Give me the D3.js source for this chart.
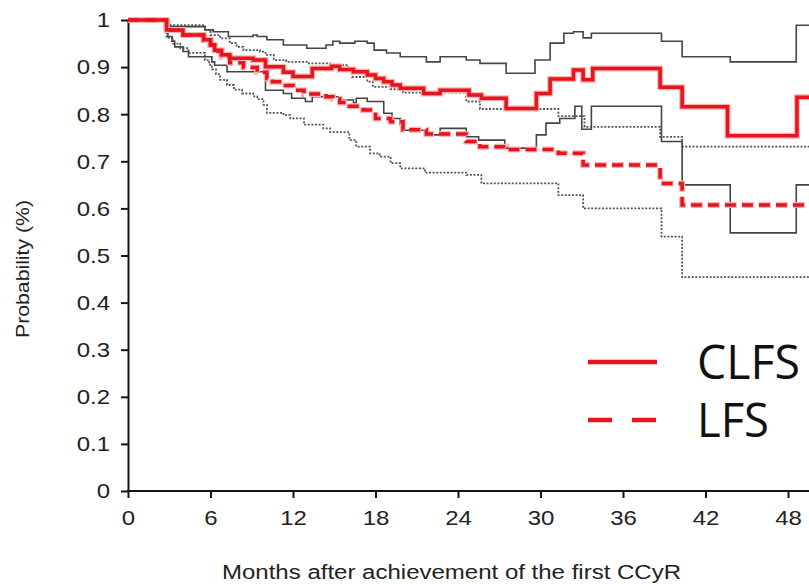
<!DOCTYPE html>
<html>
<head>
<meta charset="utf-8">
<script src="https://cdn.jsdelivr.net/npm/d3@7"></script>
<style>
  body { margin: 0; background: #fff; }
  svg { display: block; }
</style>
</head>
<body>
<svg id="chart" width="809" height="584"></svg>
<script>
// Tick values
const xTicks = [0, 6, 12, 18, 24, 30, 36, 42, 48];
const yTicks = [0, 0.1, 0.2, 0.3, 0.4, 0.5, 0.6, 0.7, 0.8, 0.9, 1];

// Kaplan-Meier step estimates: [month, probability] (value holds until the next step)
const clfs = [
  [0, 1], [2.8, 0.979], [4.0, 0.968], [5.5, 0.958], [6.0, 0.947], [6.3, 0.936],
  [6.8, 0.926], [7.4, 0.919], [9.1, 0.915], [10.0, 0.901], [11.3, 0.889],
  [12.0, 0.880], [13.4, 0.897], [14.8, 0.902], [15.4, 0.895], [16.4, 0.890],
  [17.4, 0.883], [18.0, 0.876], [18.6, 0.869], [19.2, 0.862], [19.8, 0.855],
  [21.5, 0.844], [22.7, 0.851], [24.8, 0.841], [25.7, 0.834], [27.5, 0.812],
  [29.7, 0.844], [30.7, 0.875], [32.4, 0.894], [33.1, 0.873], [33.8, 0.897],
  [38.7, 0.857], [40.3, 0.816], [43.6, 0.754], [48.65, 0.836], [52, 0.836]
];
const clfsUpper = [
  [0, 1], [3.0, 0.986], [5.6, 0.979], [6.2, 0.975], [7.3, 0.965], [9.1, 0.968],
  [9.4, 0.965], [10.1, 0.958], [11.3, 0.947], [13.0, 0.940], [14.4, 0.947],
  [14.9, 0.955], [15.4, 0.951], [16.5, 0.955], [17.4, 0.951], [17.9, 0.936],
  [18.8, 0.930], [19.8, 0.922], [21.7, 0.911], [22.7, 0.922], [24.6, 0.915],
  [25.6, 0.908], [27.5, 0.887], [29.6, 0.915], [30.7, 0.951], [31.7, 0.972],
  [32.4, 0.975], [33.1, 0.962], [33.7, 0.972], [38.8, 0.955], [40.3, 0.922],
  [43.8, 0.911], [48.6, 0.989], [52, 0.989]
];
const clfsLower = [
  [0, 1], [2.9, 0.965], [3.2, 0.955], [3.4, 0.943], [4.0, 0.933], [4.4, 0.922],
  [6.1, 0.911], [6.3, 0.904], [7.2, 0.890], [10.0, 0.851], [11.3, 0.844],
  [11.9, 0.834], [12.9, 0.827], [13.4, 0.837], [15.4, 0.830], [16.4, 0.824],
  [16.6, 0.834], [17.4, 0.827], [18.6, 0.802], [19.2, 0.791], [19.8, 0.777],
  [20.0, 0.766], [21.7, 0.756], [22.7, 0.770], [24.6, 0.752], [25.5, 0.745],
  [27.4, 0.728], [29.7, 0.756], [30.4, 0.781], [31.4, 0.791], [32.5, 0.817],
  [33.0, 0.768], [33.7, 0.817], [38.8, 0.742], [40.3, 0.650], [43.8, 0.548],
  [48.6, 0.650], [52, 0.650]
];
const lfs = [
  [0, 1], [2.8, 0.979], [4.0, 0.968], [5.5, 0.958], [6.0, 0.947], [6.3, 0.934],
  [6.8, 0.922], [7.4, 0.909], [8.4, 0.899], [9.4, 0.889], [10.1, 0.876],
  [10.5, 0.869], [11.3, 0.861], [12.0, 0.851], [12.8, 0.843], [14.4, 0.837],
  [14.9, 0.833], [15.4, 0.825], [16.1, 0.817], [17.1, 0.809], [18.0, 0.791],
  [19.1, 0.784], [20.0, 0.767], [21.7, 0.758], [24.6, 0.742], [25.6, 0.731],
  [27.5, 0.725], [31.3, 0.717], [33.1, 0.692], [38.7, 0.653], [40.3, 0.607],
  [52, 0.607]
];
const lfsUpper = [
  [0, 1], [2.9, 0.989], [5.6, 0.979], [6.0, 0.968], [6.7, 0.961], [7.4, 0.951],
  [7.9, 0.943], [8.4, 0.936], [9.6, 0.933], [10.0, 0.926], [10.6, 0.915],
  [11.5, 0.911], [13.0, 0.908], [14.7, 0.904], [16.0, 0.895], [16.3, 0.879],
  [17.4, 0.869], [17.8, 0.858], [19.1, 0.853], [20.0, 0.846], [24.6, 0.827],
  [25.6, 0.811], [31.3, 0.796], [33.2, 0.773], [38.7, 0.752], [40.3, 0.731],
  [52, 0.731]
];
const lfsLower = [
  [0, 1], [2.8, 0.962], [3.3, 0.950], [3.8, 0.940], [4.4, 0.930], [5.6, 0.915],
  [5.9, 0.905], [6.1, 0.895], [6.4, 0.885], [6.7, 0.873], [7.2, 0.862],
  [7.7, 0.852], [8.3, 0.844], [9.1, 0.838], [9.4, 0.832], [9.85, 0.820],
  [10.1, 0.803], [11.3, 0.798], [11.8, 0.791], [12.8, 0.778], [14.2, 0.770],
  [14.7, 0.762], [16.1, 0.745], [16.6, 0.731], [17.6, 0.717], [18.3, 0.710],
  [19.1, 0.696], [19.8, 0.685], [21.6, 0.676], [24.6, 0.671], [25.7, 0.653],
  [31.3, 0.628], [33.1, 0.600], [38.8, 0.540], [40.3, 0.454], [52, 0.454]
];

const legendItems = [
  { label: "CLFS", dash: null },
  { label: "LFS", dash: "24,20" }
];

const svg = d3.select("#chart");
const x = d3.scaleLinear().domain([0, 48]).range([128, 788]);
const y = d3.scaleLinear().domain([0, 1]).range([491, 20]);

const axisColor = "#151515";
const red = "#e8141c";

// Y axis
const yAxis = svg.append("g")
  .attr("transform", `translate(${x(0)},0)`)
  .call(d3.axisLeft(y).tickValues(yTicks).tickSize(7).tickSizeOuter(0)
    .tickFormat(d => (d === 0 || d === 1) ? String(d) : d3.format(".1f")(d)));
yAxis.select(".domain").attr("stroke", axisColor).attr("stroke-width", 2);
yAxis.selectAll(".tick line").attr("stroke", axisColor).attr("stroke-width", 2);
yAxis.selectAll(".tick text")
  .attr("x", -15).attr("dy", "0.34em")
  .attr("transform", "scale(1.2,1)")
  .attr("fill", "#222")
  .style("font-family", "Liberation Sans, Arial, sans-serif")
  .style("font-size", "20px");

// X axis
const xAxis = svg.append("g")
  .attr("transform", `translate(0,${y(0)})`)
  .call(d3.axisBottom(x).tickValues(xTicks).tickSize(7).tickSizeOuter(0));
xAxis.select(".domain").remove();
xAxis.selectAll(".tick line").attr("stroke", axisColor).attr("stroke-width", 2);
xAxis.selectAll(".tick text")
  .attr("y", 34).attr("dy", 0)
  .attr("transform", "scale(1.2,1)")
  .attr("fill", "#222")
  .style("font-family", "Liberation Sans, Arial, sans-serif")
  .style("font-size", "20px");
svg.append("line")
  .attr("x1", x(0) - 1).attr("x2", 809)
  .attr("y1", y(0)).attr("y2", y(0))
  .attr("stroke", axisColor).attr("stroke-width", 2);

// Axis titles
svg.append("text")
  .attr("x", 222).attr("y", 579)
  .attr("textLength", 459).attr("lengthAdjust", "spacingAndGlyphs")
  .attr("fill", "#222")
  .style("font-family", "Liberation Sans, Arial, sans-serif")
  .style("font-size", "20px")
  .text("Months after achievement of the first CCyR");
svg.append("text")
  .attr("transform", "translate(29,338) rotate(-90)")
  .attr("textLength", 138).attr("lengthAdjust", "spacingAndGlyphs")
  .attr("fill", "#222")
  .style("font-family", "Liberation Sans, Arial, sans-serif")
  .style("font-size", "19px")
  .text("Probability (%)");

// Survival curves
const step = d3.line().x(d => x(d[0])).y(d => y(d[1])).curve(d3.curveStepAfter);
const plot = svg.append("g");

function drawCurve(data, color, width, dash) {
  plot.append("path")
    .datum(data)
    .attr("d", step)
    .attr("fill", "none")
    .attr("stroke", color)
    .attr("stroke-width", width)
    .attr("stroke-dasharray", dash || null);
}

drawCurve(lfsUpper, "#555", 1.8, "2,1.6");
drawCurve(lfsLower, "#555", 1.8, "2,1.6");
drawCurve(clfsUpper, "#444", 1.6, null);
drawCurve(clfsLower, "#444", 1.6, null);
// soft edge around the red estimates
drawCurve(lfs, "#f7b3b5", 6, "12,5");
drawCurve(clfs, "#f7b3b5", 6, null);
drawCurve(lfs, red, 3.5, "11,6");
drawCurve(clfs, red, 3.5, null);

// Legend
const legend = svg.append("g");
legendItems.forEach((item, i) => {
  const ly = 362 + i * 58;
  legend.append("line")
    .attr("x1", 588).attr("x2", 657)
    .attr("y1", ly).attr("y2", ly)
    .attr("stroke", red).attr("stroke-width", 4.5)
    .attr("stroke-dasharray", item.dash);
  legend.append("text")
    .attr("x", 697).attr("y", ly + 17)
    .attr("textLength", item.label === "CLFS" ? 103 : 72)
    .attr("lengthAdjust", "spacingAndGlyphs")
    .attr("fill", "#111")
    .style("font-family", "Open Sans, Lato, sans-serif")
    .style("font-size", "47px")
    .text(item.label);
});
</script>
</body>
</html>
